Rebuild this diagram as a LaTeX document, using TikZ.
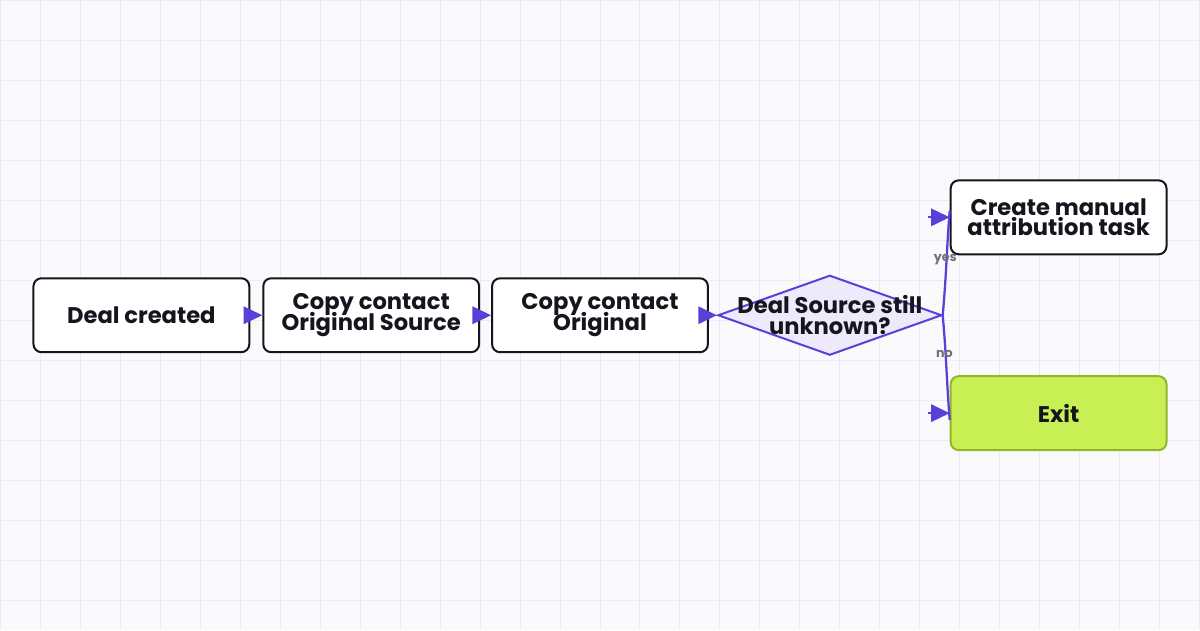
\documentclass[tikz,border=0pt]{standalone}
\usepackage{fontspec}
\setmainfont{Poppins}
\usetikzlibrary{shapes.geometric,arrows.meta}
\definecolor{bgpaper}{HTML}{FAFAFC}
\definecolor{gridline}{HTML}{ECEAF6}
\definecolor{flowpurple}{HTML}{5B3FD9}
\definecolor{decfill}{HTML}{EEEAFB}
\definecolor{exitfill}{HTML}{C8F055}
\definecolor{exitline}{HTML}{92B52A}
\definecolor{inkdark}{HTML}{15151D}
\definecolor{labelgray}{HTML}{6E6E7E}
\newcommand\boxfont{\fontsize{17}{15.5}\selectfont\bfseries\lineskiplimit=-20pt\relax}

\tikzset{
  stepbox/.style={draw=inkdark, line width=1.5pt, rounded corners=6pt, fill=white,
    minimum width=162pt, minimum height=55.5pt, inner sep=0pt, align=center,
    text=inkdark, font=\boxfont},
  exitbox/.style={stepbox, draw=exitline, fill=exitfill},
  decision/.style={diamond, draw=flowpurple, line width=1.5pt, fill=decfill,
    minimum width=168pt, minimum height=60pt, inner sep=0pt},
  flow/.style={draw=flowpurple, line width=1.7pt,
    -{Triangle[length=14pt,width=13pt]}},
  flowline/.style={draw=flowpurple, line width=1.7pt},
  edgelabel/.style={text=labelgray, inner sep=0pt, font=\fontsize{9.5}{10}\selectfont\bfseries}
}

\begin{document}
\begin{tikzpicture}[x=0.75pt,y=0.75pt,yscale=-1,xscale=1]
%Shape: background and grid
\fill [bgpaper] (0,0) rectangle (1200,630);
\foreach \gx in {0,40,...,1200} \draw [gridline, line width=0.75pt] (\gx,0) -- (\gx,630);
\foreach \gy in {0,40,...,600} \draw [gridline, line width=0.75pt] (0,\gy) -- (1200,\gy);
\useasboundingbox (0,0) rectangle (1200,630);

%Shape: steps
\node [stepbox] (dealcreated) at (141,315) {Deal created};
\node [stepbox] (copysource) at (371,315) {Copy contact\\Original Source};
\node [stepbox] (copyorig) at (600,315) {Copy contact\\Original};
%Shape: decision
\node [decision] (stillunknown) at (830,315) {};
\node [stepbox, draw=none, fill=none] at (stillunknown) {Deal Source still\\unknown?};
\node [stepbox] (manualtask) at (1059,217) {Create manual\\attribution task};
\node [exitbox] (exit) at (1059,413) {Exit};

%Straight Lines
\draw [flow] (dealcreated) -- (copysource);
\draw [flow] (copysource) -- (copyorig);
\draw [flow] (copyorig) -- (stillunknown);

%Curve Lines yes / no
\draw [flowline] (stillunknown.east) .. controls +(4,-45) and +(-3,35) .. ([yshift=-5]manualtask.west)
  node [edgelabel, pos=0.5, xshift=-1] {yes};
\draw [flow] ([xshift=-16]manualtask.west) -- (manualtask.west);
\draw [flowline] (stillunknown.east) .. controls +(4,45) and +(-3,-35) .. ([yshift=5]exit.west)
  node [edgelabel, pos=0.33, xshift=-1] {no};
\draw [flow] ([xshift=-16]exit.west) -- (exit.west);
\end{tikzpicture}
\end{document}
